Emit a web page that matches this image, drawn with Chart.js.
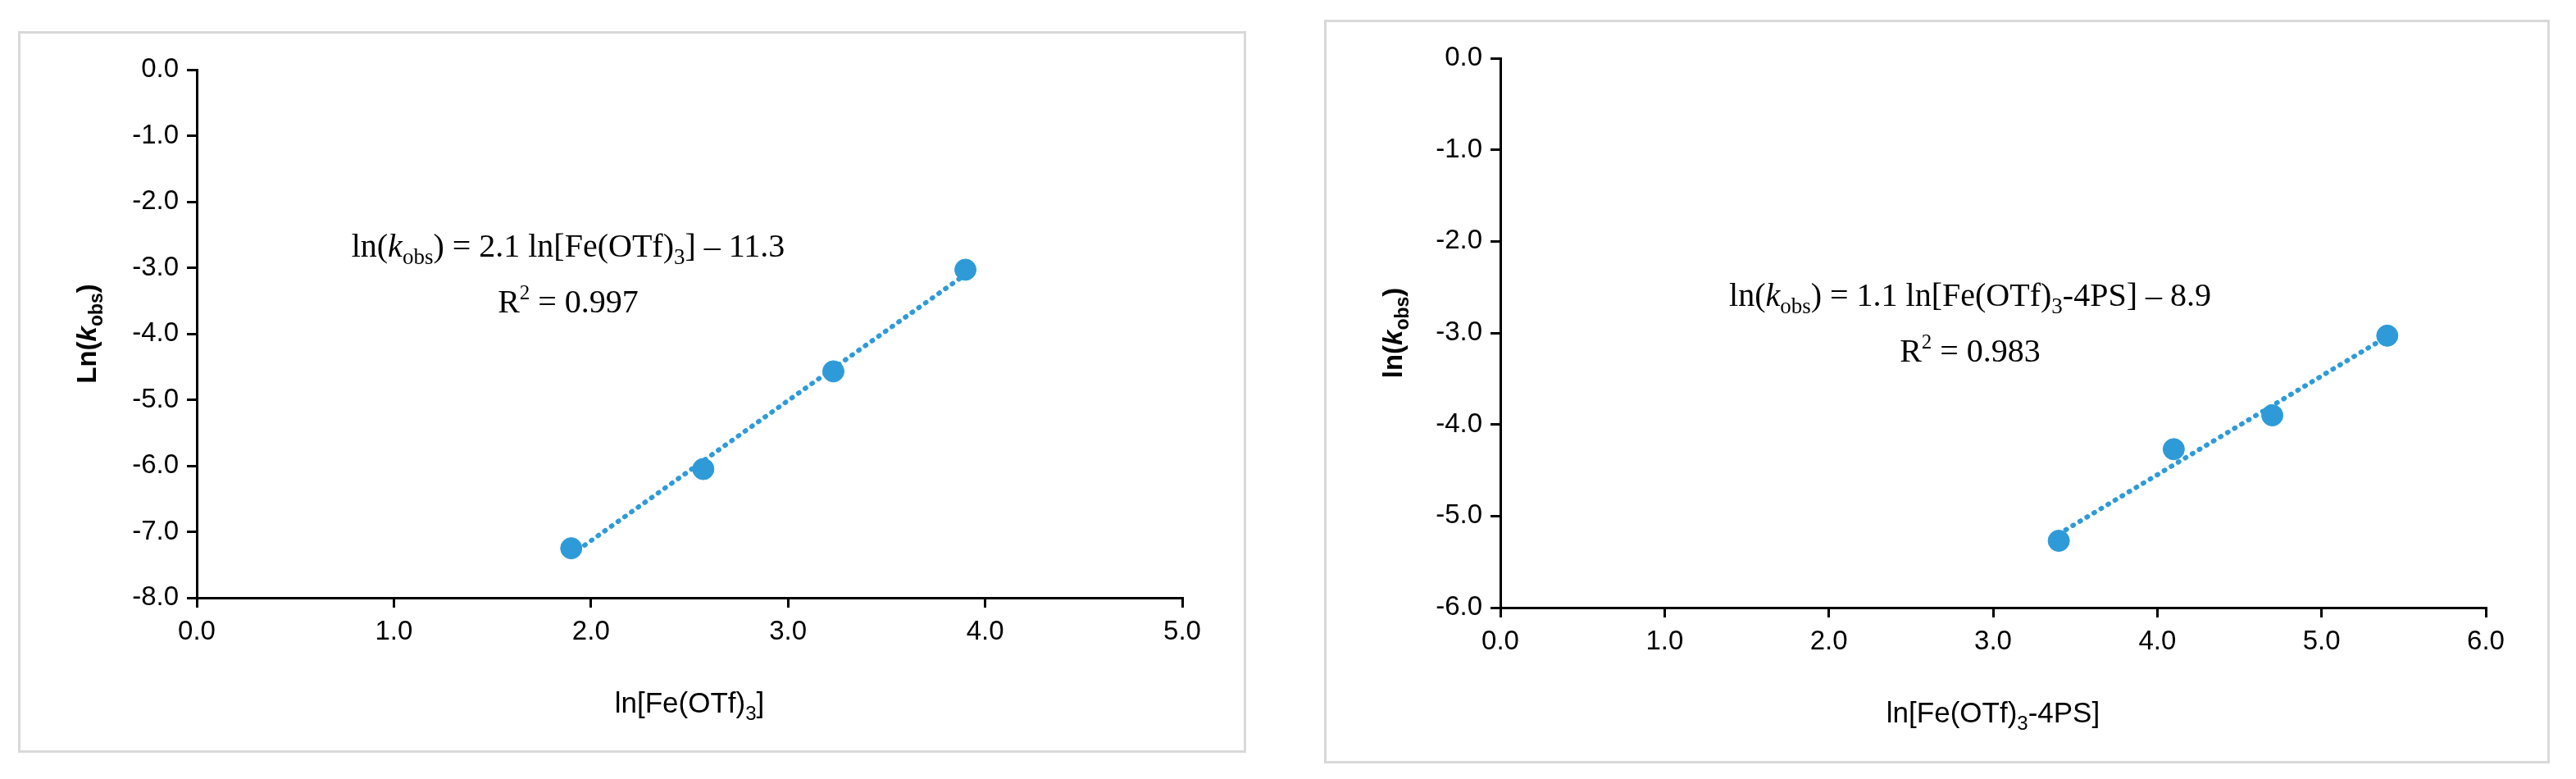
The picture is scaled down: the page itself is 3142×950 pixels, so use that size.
<!DOCTYPE html>
<html>
<head>
<meta charset="utf-8">
<script src="https://cdn.jsdelivr.net/npm/chart.js@4.4.1/dist/chart.umd.min.js"></script>
<style>
  body { margin: 0; background: #fff; width: 3142px; height: 950px; position: relative; overflow: hidden; }
  .box { position: absolute; border: 3px solid #d9d9d9; box-sizing: border-box; background: #fff; }
</style>
</head>
<body>
<div class="box" id="box1" style="left:22px;top:38px;width:1498px;height:880px;"><canvas id="c1"></canvas></div>
<div class="box" id="box2" style="left:1615px;top:24px;width:1495px;height:907px;"><canvas id="c2"></canvas></div>
<script>
// Données
const fe_x = [1.9, 2.57, 3.23, 3.9];
const fe_y = [-7.25, -6.05, -4.57, -3.03];
const ps_x = [3.4, 4.1, 4.7, 5.4];
const ps_y = [-5.27, -4.27, -3.9, -3.03];

const cor = '#2e9bd8';
const tickFont = { family: 'Liberation Sans', size: 33 };

// Régression linéaire
function ajuste(xs, ys) {
    const n = xs.length;
    const mx = xs.reduce((a, b) => a + b, 0) / n;
    const my = ys.reduce((a, b) => a + b, 0) / n;
    let sxy = 0, sxx = 0;
    xs.forEach((x, i) => { sxy += (x - mx) * (ys[i] - my); sxx += (x - mx) * (x - mx); });
    const b = sxy / sxx;
    const a = my - b * mx;
    return [{ x: xs[0], y: a + b * xs[0] }, { x: xs[n - 1], y: a + b * xs[n - 1] }];
}

// Texte composé (indices, italiques)
function textoRico(ctx, partes, x, y, align) {
    let w = 0;
    partes.forEach(p => { ctx.font = p.font; w += ctx.measureText(p.t).width; });
    let cx = align === 'center' ? x - w / 2 : x;
    ctx.textBaseline = 'alphabetic';
    ctx.textAlign = 'left';
    partes.forEach(p => {
        ctx.font = p.font;
        ctx.fillText(p.t, cx, y + (p.dy || 0));
        cx += ctx.measureText(p.t).width;
    });
}

function criarGrafico(id, xs, ys, xmax, ymin, cfg) {
    const rotulos = {
        id: 'rotulos',
        afterDraw(chart) {
            const ctx = chart.ctx;
            const a = chart.chartArea;
            ctx.save();
            ctx.fillStyle = '#000';
            cfg.equacao.forEach((linha, i) => {
                textoRico(ctx, linha, cfg.eqX, cfg.eqY + i * 68, 'center');
            });
            textoRico(ctx, cfg.tituloX, (a.left + a.right) / 2, a.bottom + 140, 'center');
            ctx.translate(cfg.yTitleX, (a.top + a.bottom) / 2);
            ctx.rotate(-Math.PI / 2);
            textoRico(ctx, cfg.tituloY, 0, 0, 'center');
            ctx.restore();
        }
    };
    return new Chart(document.getElementById(id), {
        type: 'scatter',
        data: {
            datasets: [
                {
                    data: xs.map((x, i) => ({ x: x, y: ys[i] })),
                    backgroundColor: cor, borderColor: cor,
                    pointRadius: 13, pointHoverRadius: 13, order: 1
                },
                {
                    data: ajuste(xs, ys),
                    showLine: true, pointRadius: 0,
                    borderColor: cor, borderWidth: 6,
                    borderDash: [1, 9], borderCapStyle: 'round', order: 2
                }
            ]
        },
        options: {
            responsive: true, maintainAspectRatio: false, animation: false,
            layout: { padding: { left: 10, top: cfg.top, right: 75, bottom: 10 } },
            plugins: { legend: { display: false }, tooltip: { enabled: false } },
            scales: {
                x: {
                    min: 0, max: xmax,
                    ticks: { stepSize: 1, color: '#000', font: tickFont, padding: 10, callback: v => v.toFixed(1) },
                    grid: { drawOnChartArea: false, drawTicks: true, tickLength: 12, color: '#000', lineWidth: 3 },
                    border: { color: '#000', width: 3 },
                    afterFit: s => { s.height = cfg.baixo; }
                },
                y: {
                    min: ymin, max: 0,
                    ticks: { stepSize: 1, color: '#000', font: tickFont, padding: 10, callback: v => v.toFixed(1) },
                    grid: { drawOnChartArea: false, drawTicks: true, tickLength: 12, color: '#000', lineWidth: 3 },
                    border: { color: '#000', width: 3 },
                    afterFit: s => { s.width = cfg.esq; }
                }
            }
        },
        plugins: [rotulos]
    });
}

const serif = 'Liberation Serif';
const sans = 'Liberation Sans';

criarGrafico('c1', fe_x, fe_y, 5, -8, {
    top: 44, baixo: 176, esq: 205, eqX: 668, eqY: 272, yTitleX: 92,
    equacao: [
        [{ t: 'ln(', font: '40px ' + serif }, { t: 'k', font: 'italic 40px ' + serif }, { t: 'obs', font: '27px ' + serif, dy: 9 },
         { t: ') = 2.1 ln[Fe(OTf)', font: '40px ' + serif }, { t: '3', font: '27px ' + serif, dy: 9 }, { t: '] \u2013 11.3', font: '40px ' + serif }],
        [{ t: 'R', font: '40px ' + serif }, { t: '2', font: '25px ' + serif, dy: -16 }, { t: ' = 0.997', font: '40px ' + serif }]
    ],
    tituloX: [{ t: 'ln[Fe(OTf)', font: '35px ' + sans }, { t: '3', font: '24px ' + sans, dy: 9 }, { t: ']', font: '35px ' + sans }],
    tituloY: [{ t: 'Ln(', font: 'bold 33px ' + sans }, { t: 'k', font: 'italic bold 33px ' + sans }, { t: 'obs', font: 'bold 23px ' + sans, dy: 8 }, { t: ')', font: 'bold 33px ' + sans }]
});

criarGrafico('c2', ps_x, ps_y, 6, -6, {
    top: 44, baixo: 177, esq: 202, eqX: 785, eqY: 346, yTitleX: 92,
    equacao: [
        [{ t: 'ln(', font: '40px ' + serif }, { t: 'k', font: 'italic 40px ' + serif }, { t: 'obs', font: '27px ' + serif, dy: 9 },
         { t: ') = 1.1 ln[Fe(OTf)', font: '40px ' + serif }, { t: '3', font: '27px ' + serif, dy: 9 }, { t: '-4PS] \u2013 8.9', font: '40px ' + serif }],
        [{ t: 'R', font: '40px ' + serif }, { t: '2', font: '25px ' + serif, dy: -16 }, { t: ' = 0.983', font: '40px ' + serif }]
    ],
    tituloX: [{ t: 'ln[Fe(OTf)', font: '35px ' + sans }, { t: '3', font: '24px ' + sans, dy: 9 }, { t: '-4PS]', font: '35px ' + sans }],
    tituloY: [{ t: 'ln(', font: 'bold 33px ' + sans }, { t: 'k', font: 'italic bold 33px ' + sans }, { t: 'obs', font: 'bold 23px ' + sans, dy: 8 }, { t: ')', font: 'bold 33px ' + sans }]
});
</script>
</body>
</html>
